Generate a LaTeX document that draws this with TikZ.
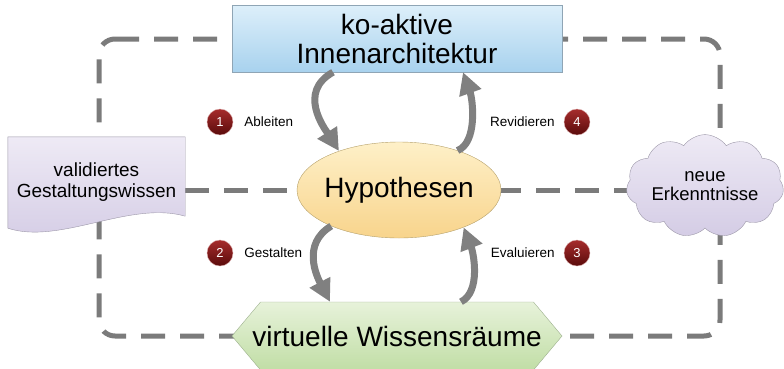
\documentclass[tikz,border=0pt]{standalone}
\usepackage{fontspec}
\setmainfont{Liberation Sans}
\usetikzlibrary{arrows.meta,backgrounds,positioning,shapes.geometric,shapes.symbols}
\definecolor{FrameGray}{HTML}{7B7B7B}
\definecolor{ArrowGray}{HTML}{808080}
\definecolor{BlueTop}{HTML}{DDEFFA}
\definecolor{BlueBot}{HTML}{A8D2EE}
\definecolor{BlueEdge}{HTML}{8FA5B5}
\definecolor{SandTop}{HTML}{FEF0C8}
\definecolor{SandBot}{HTML}{F8D48C}
\definecolor{SandEdge}{HTML}{B5A06A}
\definecolor{LeafTop}{HTML}{E7F2DA}
\definecolor{LeafBot}{HTML}{C1DEA6}
\definecolor{LeafEdge}{HTML}{9DB08E}
\definecolor{LilacTop}{HTML}{EEEAF5}
\definecolor{LilacBot}{HTML}{D4CCE5}
\definecolor{LilacEdge}{HTML}{9C97A8}
\definecolor{WineTop}{HTML}{A62C2C}
\definecolor{WineBot}{HTML}{5A0B0B}
\tikzset{
  frame/.style={line width=5pt, draw=FrameGray, dash pattern=on 24pt off 15pt},
  topbox/.style={
    rectangle, draw=BlueEdge, top color=BlueTop, bottom color=BlueBot,
    minimum width=330pt, minimum height=67pt, inner sep=0pt, align=center,
    font=\fontsize{28}{29}\selectfont
  },
  hypo/.style={
    ellipse, draw=SandEdge, top color=SandTop, bottom color=SandBot,
    minimum width=204pt, minimum height=96pt, inner xsep=-22pt, inner ysep=0pt,
    font=\fontsize{28}{29}\selectfont
  },
  hexa/.style={
    signal, signal to=west and east, signal pointer angle=100,
    draw=LeafEdge, top color=LeafTop, bottom color=LeafBot,
    minimum width=330pt, minimum height=68pt, inner xsep=-20pt, inner ysep=0pt,
    font=\fontsize{28}{29}\selectfont
  },
  docbox/.style={
    rectangle, minimum width=177pt, minimum height=91pt, inner sep=0pt,
    align=center, font=\fontsize{19}{21}\selectfont
  },
  docfill/.style={draw=LilacEdge, top color=LilacTop, bottom color=LilacBot},
  cloudbox/.style={
    cloud, cloud puffs=11, cloud puff arc=110, aspect=1.8,
    draw=LilacEdge, top color=LilacTop, bottom color=LilacBot,
    minimum width=157pt, minimum height=92pt, inner sep=0pt, align=center,
    font=\fontsize{18.5}{19}\selectfont
  },
  numdot/.style={
    circle, draw=WineTop!40, top color=WineTop, bottom color=WineBot,
    text=white, minimum size=26pt, inner sep=0pt, font=\fontsize{13}{13}\selectfont
  },
  numlabel/.style={inner sep=0pt, font=\fontsize{13.5}{14}\selectfont},
  cycarrow/.style={-{Triangle[length=22pt,width=22pt]}, line width=7pt, draw=ArrowGray}
}

\begin{document}
\begin{tikzpicture}[x=1pt,y=-1pt]
  \useasboundingbox (0,0) rectangle (784,368);
  \node[topbox] (inn) at (397,38.5) {ko-aktive\\Innenarchitektur};
  \node[hypo] (hyp) at (399,190) {Hypothesen};
  \node[hexa] (vwr) at (397,336) {virtuelle Wissensräume};
  \node[docbox] (doc) at (96.5,182.5) {validiertes\\Gestaltungswissen};
  \node[cloudbox] (neu) at (705,186) {neue\\Erkenntnisse};
  % frame and links behind the nodes
  \coordinate (fnw) at (99,39);
  \coordinate (fne) at (720,39);
  \coordinate (fse) at (720,336);
  \coordinate (fsw) at (99,336);
  \begin{pgfonlayer}{background}
    \draw[frame, rounded corners=16pt] (fnw) -- (fne) -- (fse) -- (fsw) -- cycle;
    \draw[frame] (doc.east |- hyp) -- (neu.west |- hyp);
    \shade[docfill] (doc.north west) -- (doc.north east)
      -- ([yshift=12pt]doc.south east) .. controls +(-55,-16) and +(52,17) .. (doc.south west)
      -- cycle;
  \end{pgfonlayer}
  % steps
  \node[numdot] (d1) at (220,122) {1};
  \node[numlabel, right=11pt of d1] (l1) {Ableiten};
  \node[numdot] (d4) at (577,122) {4};
  \node[numlabel, left=9pt of d4] (l4) {Revidieren};
  \node[numdot] (d2) at (220,253) {2};
  \node[numlabel, right=11pt of d2] (l2) {Gestalten};
  \node[numdot] (d3) at (577,253) {3};
  \node[numlabel, left=9pt of d3] (l3) {Evaluieren};
  % cycle arrows
  \draw[cycarrow] ([xshift=-64pt]inn.south) .. controls +(-36,20) and +(-14,-22) .. (hyp.147);
  \draw[cycarrow] (hyp.34) .. controls +(20,-8) and +(10,28) .. ([xshift=66pt]inn.south);
  \draw[cycarrow] (hyp.208) .. controls +(-30,18) and +(-13,-25) .. ([xshift=-67pt]vwr.north);
  \draw[cycarrow] ([xshift=64pt]vwr.north) .. controls +(20,-10) and +(10,26) .. (hyp.-30);
\end{tikzpicture}
\end{document}
